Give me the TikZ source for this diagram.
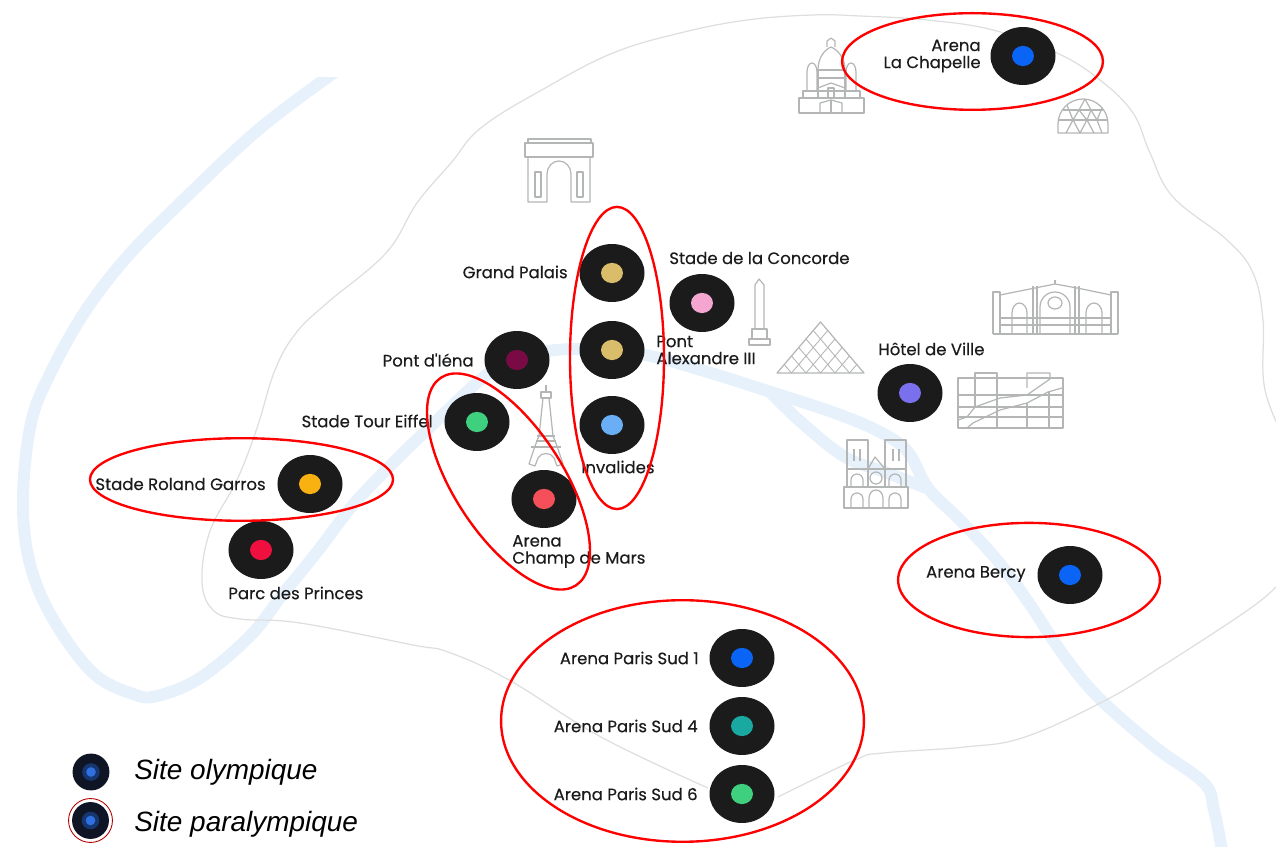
\documentclass[tikz,border=0pt]{standalone}
\usepackage{fontspec}
\setmainfont{Poppins}
\newfontfamily\labfont[FakeBold=0.35]{Poppins}
\newfontfamily\legendfont{Liberation Sans}
\usetikzlibrary{shapes.geometric}
\definecolor{riverc}{HTML}{E7F1FB}
\definecolor{borderc}{HTML}{DEDEDE}
\definecolor{landc}{HTML}{B4B6B6}
\definecolor{discc}{HTML}{1B1B1B}
\definecolor{bluec}{HTML}{0A64F5}
\definecolor{goldc}{HTML}{D9BD6A}
\definecolor{tealc}{HTML}{1AA9A0}
\definecolor{greenc}{HTML}{3ED07F}
\definecolor{skyc}{HTML}{6AAEF5}
\definecolor{pinkc}{HTML}{F5A6D0}
\definecolor{wine}{HTML}{7A0A46}
\definecolor{coral}{HTML}{F5505A}
\definecolor{amber}{HTML}{F9B011}
\definecolor{crimson}{HTML}{F0103F}
\definecolor{violetc}{HTML}{7A70EE}
\definecolor{lgdisc}{HTML}{0F1524}
\definecolor{lgmid}{HTML}{16366F}
\definecolor{lgdot}{HTML}{2F6FE0}
\tikzset{
  disc/.style={ellipse,fill=discc,inner sep=0pt,minimum width=37pt,minimum height=33pt},
  dot/.style={ellipse,inner sep=0pt,minimum width=12.5pt,minimum height=11.5pt},
  lab/.style={font=\labfont\fontsize{9.4}{9.7}\selectfont,text=discc,inner sep=0pt,align=left},
  labr/.style={lab,anchor=east,align=right},
  labl/.style={lab,anchor=west},
  ring/.style={ellipse,draw=red,line width=1.35pt,inner sep=0pt},
  land/.style={draw=landc,line width=0.7pt,line join=round},
  river/.style={draw=riverc,line width=6.8pt,line cap=butt,line join=round},
  limit/.style={draw=borderc,line width=0.7pt},
  legend/.style={font=\legendfont\itshape\fontsize{15.9}{18}\selectfont,text=black,inner sep=0pt,anchor=west},
  lgbody/.style={circle,fill=lgdisc,inner sep=0pt,minimum size=21pt},
  lgmiddle/.style={circle,fill=lgmid,inner sep=0pt,minimum size=10pt},
  lgcore/.style={circle,fill=lgdot,inner sep=0pt,minimum size=5.5pt}
}
\newcommand{\site}[4]{\node[disc] (#1) at (#2,#3) {}; \node[dot,fill=#4] (#1dot) at (#2,#3) {};}
\begin{document}
\begin{tikzpicture}[x=0.02cm,y=-0.02cm]
\useasboundingbox (0,0) rectangle (1276,847);
% river
\begin{scope}
\clip (0,78) rectangle (1276,847);
\draw[river] plot[smooth,tension=0.6] coordinates {(335,72) (258,130) (176,207) (127,257) (86,310) (52,370) (31,423) (23,501) (30,564) (53,619) (93,673) (133,694) (157,696) (200,678) (250,636) (283,594) (317,552) (353,505) (393,463) (427,430) (490,372) (530,355) (575,349) (640,354) (701,370) (774,393) (835,413) (880,432) (908,452) (928,488) (960,520) (997,560) (1029,603) (1062,653) (1098,697) (1155,747) (1204,783) (1214,810) (1222,850)};
\draw[river] plot[smooth,tension=0.6] coordinates {(770,392) (802,423) (845,457) (885,472) (926,488)};
\end{scope}
% city limit
\draw[limit] plot[smooth,tension=0.65] coordinates {(1290,450) (1265,390) (1263,320) (1253,273) (1227,240) (1173,197) (1150,153) (1133,113) (1100,80) (1057,53) (993,30) (927,20) (860,16) (813,15) (747,20) (680,33) (613,53) (547,87) (482,127) (451,163) (417,203) (386,253) (327,303) (296,333) (275,370) (257,428) (237,480) (210,531) (202,581) (213,610) (240,619) (300,623) (413,645) (448,652) (509,680) (601,737) (708,788)};
\draw[limit] plot[smooth,tension=0.65] coordinates {(778,797) (855,760) (883,753) (965,747) (1025,737) (1106,700) (1167,663) (1248,610) (1276,587)};
% Sacre-Coeur
\draw[land] (799,113) rectangle (864,98);
\draw[land] (803,98) rectangle (860,91);
\draw[land] (807,91) -- (807,72) arc[start angle=180,end angle=360,x radius=5,y radius=9] -- (817,91);
\draw[land] (846,91) -- (846,72) arc[start angle=180,end angle=360,x radius=5,y radius=9] -- (856,91);
\draw[land] (818,70) rectangle (845,98);
\draw[land] (818,70) .. controls (818,58) and (824,50) .. (831,47) .. controls (838,50) and (845,58) .. (845,70);
\draw[land] (827,47) -- (827,41) -- (831,38) -- (835,41) -- (835,47);
\draw[land] (818,78) -- (845,78);
\draw[land] (818,88) -- (831,83) -- (845,88);
\draw[land] (828,88) rectangle (834,98);
\draw[land] (820,113) -- (820,103) -- (831,100) -- (842,103) -- (842,113);
\draw[land] (831,100) -- (831,113);
% Dome
\draw[land] (1058,133) -- (1058,124) arc[start angle=180,end angle=360,x radius=25,y radius=25] -- (1108,133) -- cycle;
\draw[land] (1058,120) -- (1108,120) (1063,110) -- (1103,110);
\draw[land] (1066,133) -- (1073,120) -- (1079,110) -- (1085,99) -- (1091,110) -- (1097,120) -- (1102,133);
\draw[land] (1073,120) -- (1080,133) -- (1087,120) -- (1079,110);
\draw[land] (1087,120) -- (1094,133);
\draw[land] (1087,120) -- (1091,110);
\draw[land] (1073,120) -- (1067,105) (1097,120) -- (1102,108);
% Arc de Triomphe
\draw[land] (528,143) -- (528,139) -- (591,139) -- (591,143);
\draw[land] (525,143) rectangle (593,157);
\draw[land] (528,157) -- (528,202) -- (547,202) -- (547,174) arc[start angle=180,end angle=360,x radius=12,y radius=13] -- (571,202) -- (590,202) -- (590,157);
\draw[land] (535,172) rectangle (541,197);
\draw[land] (577,172) rectangle (583,197);
% Obelisk
\draw[land] (755,328) -- (755,285) -- (759,279) -- (764,285) -- (764,328);
\draw[land] (752,339) -- (752,329) -- (767,329) -- (767,339);
\draw[land] (749,339) rectangle (770,345);
% Pyramid
\draw[land] (777,373) -- (820.5,322) -- (864,373) -- cycle;
\foreach \i in {1,...,5}{
  \draw[land,line width=0.5pt] ({777+\i*14.5},373) -- ({777+\i*14.5+43.5*(1-\i/6)},{373-51*(1-\i/6)});
  \draw[land,line width=0.5pt] ({864-\i*14.5},373) -- ({864-\i*14.5-43.5*(1-\i/6)},{373-51*(1-\i/6)});
}
% Grand Palais
\draw[land] (993,334) -- (1118,334);
\draw[land] (993,334) -- (993,292) -- (1000,292) -- (1000,334) (1111,334) -- (1111,292) -- (1118,292) -- (1118,334);
\draw[land] (1000,295) -- (1035,288) -- (1055,284) -- (1077,288) -- (1111,295);
\draw[land] (1055,284) -- (1055,280);
\draw[land] (1033,334) -- (1033,286) (1037,334) -- (1037,286) (1075,334) -- (1075,286) (1079,334) -- (1079,286);
\draw[land] (1000,318) -- (1111,318) (1000,325) -- (1111,325);
\draw[land] (1012,334) -- (1012,313) arc[start angle=180,end angle=360,x radius=7.5,y radius=10] -- (1027,334);
\draw[land] (1040,334) -- (1040,307) arc[start angle=180,end angle=360,x radius=15,y radius=15] -- (1070,334);
\draw[land] (1086,334) -- (1086,313) arc[start angle=180,end angle=360,x radius=8,y radius=10] -- (1102,334);
\draw[land] (1055,303) ellipse[x radius=7,y radius=6];
% Pompidou
\draw[land] (958,378) rectangle (1063,428);
\draw[land] (958,395) -- (1063,395) (958,407) -- (1063,407) (958,417) -- (1063,417);
\draw[land] (975,408) -- (975,373) -- (997,373) -- (997,428);
\draw[land] (1027,388) -- (1027,373) -- (1050,373) -- (1050,379) -- (1027,395) -- (1000,398) -- (975,407) -- (967,417) -- (958,420);
\draw[land] (1062,388) -- (1048,392) -- (1027,403) -- (1000,410) -- (973,423) -- (967,428);
\draw[land] (1027,403) -- (1027,428) (1049,392) -- (1049,428);
% Notre-Dame
\draw[land] (847,440) rectangle (868,487);
\draw[land] (885,440) rectangle (906,487);
\draw[land] (844,487) rectangle (908,508);
\draw[land] (847,469) -- (906,469);
\draw[land] (868,469) -- (875,457) -- (885,469);
\draw[land] (854,449) -- (854,461) (860,449) -- (860,461) (893,449) -- (893,461) (899,449) -- (899,461);
\draw[land] (876,478) circle (6);
\draw[land] (851,487) -- (851,480) arc[start angle=180,end angle=360,x radius=6,y radius=6] -- (863,487);
\draw[land] (889,487) -- (889,480) arc[start angle=180,end angle=360,x radius=6,y radius=6] -- (901,487);
\draw[land] (851,508) -- (851,499) arc[start angle=180,end angle=360,x radius=6,y radius=6] -- (863,508);
\draw[land] (869,508) -- (869,498) arc[start angle=180,end angle=360,x radius=7,y radius=8] -- (883,508);
\draw[land] (889,508) -- (889,499) arc[start angle=180,end angle=360,x radius=6,y radius=6] -- (901,508);
% Eiffel tower
\draw[land] (546,385) -- (546,392);
\draw[land] (541,392) rectangle (551,398);
\draw[land] (543,398) -- (539,436) -- (535,446) -- (529,464) -- (535,466) -- (538,458) .. controls (541,452) and (551,452) .. (554,458) -- (557,466) -- (563,464) -- (557,446) -- (553,436) -- (549,398);
\draw[land] (537,436) -- (555,436) (536,441) -- (556,441) (531,447) -- (561,447);
% sites
\site{chap}{1023}{56}{bluec}
\site{gp}{612}{273}{goldc}
\site{pa}{612}{350}{goldc}
\site{inv}{612}{425}{skyc}
\site{conc}{702}{303}{pinkc}
\site{iena}{517}{360}{wine}
\site{eiff}{477}{422}{greenc}
\site{mars}{544}{499}{coral}
\site{rg}{310}{484}{amber}
\site{pdp}{261}{550}{crimson}
\site{hdv}{910}{393}{violetc}
\site{berc}{1070}{575}{bluec}
\site{sudA}{742}{658}{bluec}
\site{sudB}{742}{726}{tealc}
\site{sudC}{742}{794}{greenc}
% labels
\node[labr] (tchap) at (981,56) {Arena\\La Chapelle};
\node[labr] (tgp) at (568,272) {Grand Palais};
\node[labl] (tconc) at (669,258) {Stade de la Concorde};
\node[labl] (tpa) at (656,350) {Pont\\Alexandre III};
\node[labr] (tiena) at (474,360) {Pont d'Iéna};
\node[labr] (teiff) at (433,421) {Stade Tour Eiffel};
\node[labl] (tinv) at (581,467) {Invalides};
\node[labl] (tmars) at (512,551.5) {Arena\\Champ de Mars};
\node[labr] (trg) at (266,484) {Stade Roland Garros};
\node[labl] (tpdp) at (228,593) {Parc des Princes};
\node[labl] (thdv) at (878,349) {Hôtel de Ville};
\node[labr] (tberc) at (1026,574) {Arena Bercy};
\node[labr] (tsudA) at (699,658) {Arena Paris Sud 1};
\node[labr] (tsudB) at (698,726) {Arena Paris Sud 4};
\node[labr] (tsudC) at (698,794) {Arena Paris Sud 6};
% red rings
\node[ring,minimum width=148.5pt,minimum height=55pt] (ringA) at (972.5,61.5) {};
\node[ring,minimum width=53.5pt,minimum height=172pt] (ringB) at (617,358) {};
\node[ring,rotate=-57,minimum width=141pt,minimum height=62pt] (ringC) at (508.5,481.5) {};
\node[ring,minimum width=172.5pt,minimum height=47pt] (ringD) at (241.5,479.5) {};
\node[ring,minimum width=149pt,minimum height=65pt] (ringE) at (1029,580) {};
\node[ring,minimum width=206.5pt,minimum height=137.5pt] (ringF) at (682.5,721) {};
% legend
\node[lgbody] (lgA) at (91,772) {};
\node[lgmiddle] (lgAmid) at (91,772) {};
\node[lgcore] (lgAdot) at (91,772) {};
\node[circle,draw=red!70!black,line width=0.5pt,inner sep=0pt,minimum size=25pt] (lgBring) at (90.5,820.5) {};
\node[lgbody] (lgB) at (90.5,820.5) {};
\node[lgmiddle] (lgBmid) at (90.5,820.5) {};
\node[lgcore] (lgBdot) at (90.5,820.5) {};
\node[legend] (lgAt) at (134,772) {Site olympique};
\node[legend] (lgBt) at (134,824) {Site paralympique};
\end{tikzpicture}
\end{document}
